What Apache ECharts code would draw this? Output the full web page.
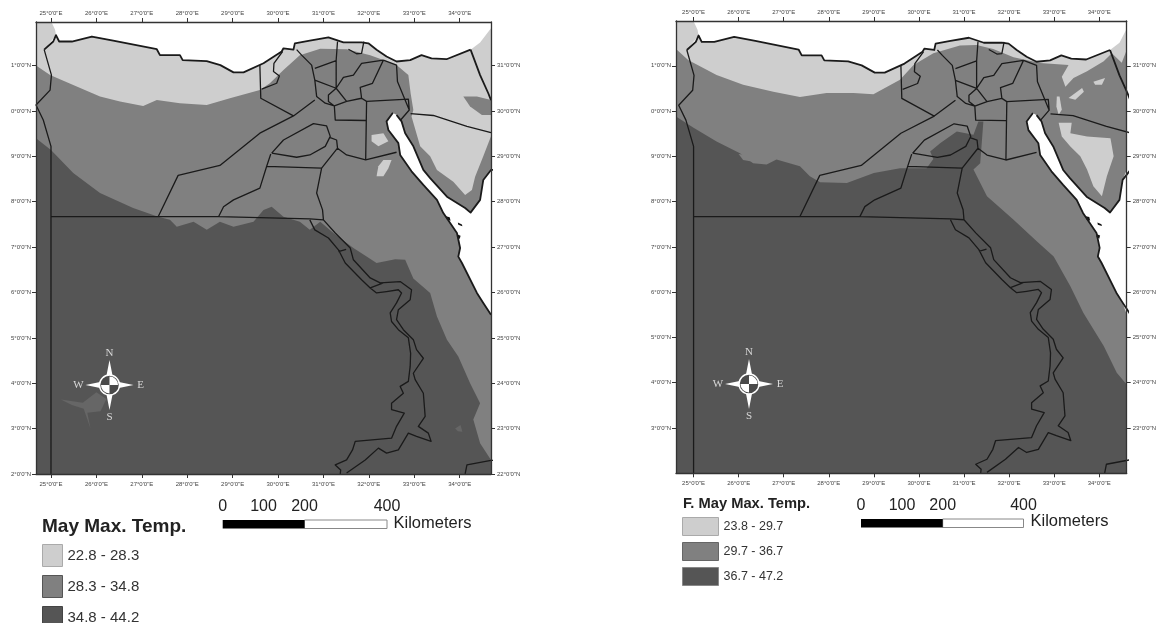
<!DOCTYPE html>
<html>
<head>
<meta charset="utf-8">
<style>html,body{margin:0;padding:0;background:#fff}#c{width:1168px;height:623px;filter:blur(0.45px)}</style>
<script src="https://cdn.jsdelivr.net/npm/echarts@6/dist/echarts.min.js"></script>
</head>
<body>
<div id="c"></div>
<script>
// ---- tick values and labels
const lonTicks = [25,26,27,28,29,30,31,32,33,34];
const lonLabels = ["25°0'0\"E","26°0'0\"E","27°0'0\"E","28°0'0\"E","29°0'0\"E","30°0'0\"E","31°0'0\"E","32°0'0\"E","33°0'0\"E","34°0'0\"E"];
const latTicksA = [22,23,24,25,26,27,28,29,30,31];
const latTicksB = [23,24,25,26,27,28,29,30,31];
const latLabelsLeft = {22:"2°0'0\"N",23:"3°0'0\"N",24:"4°0'0\"N",25:"5°0'0\"N",26:"6°0'0\"N",27:"7°0'0\"N",28:"8°0'0\"N",29:"9°0'0\"N",30:"0°0'0\"N",31:"1°0'0\"N"};
const latLabelsRight = {22:"22°0'0\"N",23:"23°0'0\"N",24:"24°0'0\"N",25:"25°0'0\"N",26:"26°0'0\"N",27:"27°0'0\"N",28:"28°0'0\"N",29:"29°0'0\"N",30:"30°0'0\"N",31:"31°0'0\"N"};

// ---- legend classes
const classesA = ['22.8 - 28.3','28.3 - 34.8','34.8 - 44.2'];
const classesB = ['23.8 - 29.7','29.7 - 36.7','36.7 - 47.2'];
const scaleLabels = ['0','100','200','400'];

// ---- whole-map base (lon, lat)
const wholeMap = [[24.5,32.2],[34.9,32.2],[34.9,21.8],[24.5,21.8]];

// ---- temperature zones, current period (left map)
const midZoneA = [[24.5,31.0],[24.67,31.0],[24.98,30.79],[25.49,30.57],[26.08,30.32],[26.52,30.21],[27.03,30.11],[27.33,30.24],[27.84,30.17],[28.43,30.13],[28.94,30.28],[29.6,30.46],[29.82,30.61],[30.12,30.9],[30.48,31.23],[30.93,31.37],[31.51,31.36],[32.03,31.23],[32.32,31.12],[32.61,31.01],[32.87,30.79],[32.92,30.39],[32.98,30.02],[32.94,29.88],[33.13,29.22],[33.35,29.0],[33.5,28.7],[33.86,28.44],[34.12,28.15],[34.27,28.26],[34.34,28.55],[34.52,29.0],[34.69,29.44],[34.9,29.44],[34.9,21.8],[24.5,21.8]];
const midPatchA = [[34.08,30.32],[34.38,30.32],[34.69,30.24],[34.9,30.24],[34.9,29.91],[34.49,29.91],[34.23,30.1]];
const darkZoneA = [[24.5,29.4],[24.67,29.4],[25,29.14],[25.49,28.63],[26.08,28.19],[26.81,27.86],[27.36,27.67],[27.62,27.6],[27.77,27.45],[28.14,27.56],[28.43,27.38],[28.72,27.56],[29.02,27.45],[29.46,27.56],[29.68,27.82],[29.86,27.89],[30.12,27.67],[30.48,27.56],[30.7,27.38],[30.93,27.56],[31.22,27.31],[31.66,26.98],[31.95,26.79],[32.17,26.65],[32.58,26.73],[32.8,26.72],[32.98,26.31],[33.35,25.99],[33.5,25.47],[33.72,24.96],[33.97,24.59],[34.23,24.0],[34.45,23.56],[34.3,23.2],[34.45,22.68],[34.69,22.31],[34.9,22.31],[34.9,21.8],[24.5,21.8]];
const lightPatchA1 = [[32.06,29.47],[32.32,29.51],[32.43,29.33],[32.21,29.22],[32.06,29.33]];
const lightPatchA2 = [[32.5,28.92],[32.32,28.92],[32.21,28.78],[32.17,28.56],[32.32,28.56],[32.43,28.74]];
const midBlobA1 = [[25.22,23.64],[25.7,23.57],[26.0,23.8],[26.22,23.65],[26.09,23.38],[25.8,23.35],[25.87,23.0],[25.72,23.44],[25.46,23.52]];
const midBlobA2 = [[33.9,23.0],[34.02,23.08],[34.06,22.93],[33.96,22.94]];

// ---- temperature zones, future period (right map)
const midZoneB = [[24.5,31.37],[24.61,31.37],[24.88,31.13],[25.51,30.8],[26.1,30.58],[26.77,30.43],[27.36,30.31],[27.95,30.4],[28.55,30.4],[28.99,30.37],[29.58,30.69],[29.88,31.02],[30.32,31.28],[30.91,31.45],[31.28,31.46],[31.65,31.37],[32.1,31.19],[32.69,31.06],[33.32,31.02],[33.17,30.76],[33.25,30.54],[33.43,30.73],[33.73,30.88],[34.1,31.1],[34.28,31.28],[34.5,31.07],[34.62,31.35],[34.9,31.35],[34.9,21.8],[24.5,21.8]];
const darkZoneB = [[24.5,29.88],[24.61,29.88],[25,29.63],[25.51,29.33],[26.03,29.07],[26.32,28.85],[26.62,28.82],[26.84,28.93],[27.36,28.78],[27.58,28.56],[27.81,28.43],[28.4,28.41],[29,28.63],[29.58,28.74],[30.17,28.74],[30.32,28.94],[30.25,29.11],[30.47,29.29],[30.84,29.55],[31.21,29.48],[31.32,29.77],[31.43,29.77],[31.4,29.37],[31.36,28.85],[31.21,28.71],[31.51,28.12],[32.1,27.6],[32.62,27.12],[32.99,26.79],[33.36,26.13],[33.65,25.54],[34.1,24.81],[34.39,24.22],[34.62,23.96],[34.9,23.96],[34.9,21.8],[24.5,21.8]];
const lightPatchB1 = [[33.1,29.74],[33.39,29.74],[33.36,29.51],[33.73,29.44],[34.25,29.4],[34.32,29.0],[34.17,28.56],[34.06,28.12],[33.87,28.34],[33.73,28.71],[33.58,29.0],[33.36,29.22],[33.17,29.44]];
const lightPatchB2 = [[33.32,30.29],[33.62,30.51],[33.66,30.43],[33.47,30.25]];
const lightPatchB3 = [[33.87,30.65],[34.13,30.73],[34.06,30.58],[33.91,30.58]];
const lightPatchB4 = [[33.06,30.32],[33.12,30.32],[33.17,30.03],[33.1,29.92],[33.05,30.1]];
const midBlobB1 = [[26.0,29.05],[26.25,29.02],[26.32,28.88],[26.1,28.92]];

// ---- coastline and land borders
const medCoast = [[24.85,31.35],[25.05,31.53],[25.11,31.67],[25.18,31.53],[25.46,31.53],[25.9,31.64],[26.37,31.55],[27.33,31.36],[27.4,31.23],[27.84,31.23],[27.9,31.12],[28.43,31.1],[28.73,31.01],[29.02,30.85],[29.24,30.85],[29.68,31.05],[30.08,31.31],[30.12,31.38],[30.34,31.35],[30.37,31.49],[30.7,31.55],[31.11,31.62],[31.44,31.51],[31.84,31.51],[31.88,31.53],[31.99,31.49],[32.17,31.35],[32.39,31.2],[32.61,31.09],[32.91,31.12],[33.16,31.23],[33.38,31.16],[33.71,31.14],[34.24,31.35]];
const medSeaEdge = [[34.24,31.35],[34.45,31.51],[34.69,31.82],[34.9,32.2],[25.0,32.2],[25.01,31.96],[25.09,31.79],[25.11,31.67]];
const redSea = [[32.53,29.96],[32.39,29.77],[32.43,29.58],[32.65,29.29],[32.69,29.03],[32.94,28.67],[33.2,28.37],[33.5,28.04],[33.64,27.75],[33.94,27.31],[34.01,26.98],[33.97,26.79],[34.05,26.65],[34.38,25.99],[34.52,25.77],[34.69,25.51],[34.9,25.4],[34.9,28.7],[34.69,28.7],[34.52,28.48],[34.45,28.04],[34.24,27.76],[34.12,27.86],[33.72,28.11],[33.35,28.52],[33.2,28.7],[32.98,29.22],[32.8,29.51],[32.72,29.77],[32.61,29.91]];
const island1 = [[33.7,27.68],[33.78,27.66],[33.8,27.58],[33.72,27.6]];
const island2 = [[33.96,27.54],[34.05,27.5],[34.06,27.46],[33.97,27.49]];
const island3 = [[33.95,27.28],[34.02,27.25],[34.0,27.18],[33.94,27.22]];
const westBorder = [[24.85,31.35],[25.01,30.79],[24.98,30.46],[24.67,30.13],[24.83,29.8],[25,29.22],[25,22]];
const eastBorder = [[34.24,31.35],[34.45,30.79],[34.63,30.39],[34.69,30.24]];
const sudanLine = [[25,27.67],[27.36,27.67],[28.69,27.67],[30.7,27.62],[31,27.6]];
const redSeaWest = redSea.slice(0,16);
const redSeaSinai = redSea.slice(17);

// ---- governorate boundaries
const admin01 = [[29.6,31.01],[29.62,30.28],[30.34,29.89],[29.6,29.51],[28.72,28.8],[27.8,28.58],[27.36,27.67]];
const admin02 = [[29.64,30.48],[29.97,30.61],[30.03,30.77],[29.9,30.87],[29.91,31.05],[30.1,31.31]];
const admin03 = [[30.34,29.89],[30.81,30.24]];
const admin04 = [[30.41,31.35],[30.52,31.23],[30.74,31.01],[30.81,30.68],[30.85,30.32],[31.04,30.17],[31.24,30.11]];
const admin05 = [[30.81,30.94],[31.28,31.11],[31.31,31.53]];
const admin06 = [[31.28,31.11],[31.28,30.5],[30.81,30.68]];
const admin07 = [[31.28,30.5],[31.11,30.35],[31.11,30.21],[31.24,30.11],[31.51,30.21],[31.28,30.5]];
const admin08 = [[31.28,30.5],[31.44,30.74],[31.66,30.79],[31.84,31.05],[32.32,31.12]];
const admin09 = [[31.51,30.21],[31.84,30.28],[31.81,30.52],[32.08,30.61],[32.32,31.12]];
const admin10 = [[31.55,31.36],[31.73,31.26],[31.84,31.27],[31.89,31.53]];
const admin11 = [[32.32,31.12],[32.61,31.01],[32.63,30.65],[32.89,30.02],[32.69,29.79]];
const admin12 = [[31.84,30.28],[31.95,30.21],[32.87,30.26],[32.89,30.02]];
const admin13 = [[31.24,30.11],[31.26,29.8],[31.93,29.79]];
const admin14 = [[31.95,30.21],[31.93,28.92],[32.61,29.09]];
const admin15 = [[32.92,29.94],[33.42,29.9],[34.16,29.66],[34.69,29.52]];
const admin16 = [[31.31,29.18],[31.51,29.03],[31.93,28.92]];
const admin17 = [[29.86,29.07],[30.12,29.36],[30.78,29.72],[31.07,29.67],[31.15,29.44],[31.04,29.22],[30.7,29.03],[30.41,28.98],[29.86,29.07]];
const admin18 = [[31.15,29.41],[31.29,29.36],[31.31,29.18],[30.96,28.74],[29.75,28.78],[29.84,29.05]];
const admin19 = [[29.75,28.78],[29.6,28.3],[29.02,28.04],[28.8,27.89],[28.69,27.67]];
const admin20 = [[30.96,28.74],[30.85,28.19],[30.98,27.82],[31,27.6]];
const nileWest = [[30.7,27.6],[30.81,27.38],[31.11,27.2],[31.33,26.94],[31.33,26.9],[31.48,26.65],[31.84,26.28],[32.03,26.1],[32.17,25.99],[32.39,26.02],[32.65,26.06],[32.72,25.99],[32.61,25.77],[32.47,25.55],[32.5,25.36],[32.65,25.18],[32.87,25.0],[32.92,24.66],[32.91,24.37],[32.87,24.04],[32.69,23.93],[32.76,23.78],[32.5,23.56],[32.5,23.42],[32.78,23.34],[32.61,23.05],[32.5,22.79],[31.7,22.72],[31.64,22.53],[31.51,22.31],[31.26,22.2],[31.38,22.09],[31.37,22.0]];
const nileEast = [[31,27.6],[31.26,27.31],[31.59,26.98],[31.66,26.72],[32.03,26.32],[32.25,26.21],[32.69,26.24],[32.94,26.06],[32.91,25.84],[32.65,25.62],[32.61,25.4],[32.76,25.18],[32.98,24.96],[33.05,24.74],[33.2,24.55],[32.98,24.22],[33.02,24.08],[33.2,23.78],[33.24,23.27],[33.09,23.05],[33.31,22.9],[33.37,22.72],[33.05,22.83],[32.87,22.9],[32.65,22.53],[32.39,22.46],[32.21,22.57],[31.92,22.31],[31.51,22.02]];
const nileCross = [[32.03,26.1],[32.32,26.21]];
const nileTop = [[31.33,26.9],[31.5,26.95]];
const halayeb = [[34.12,22.0],[34.16,22.2],[34.69,22.3],[34.9,22.3]];

const C_LIGHT = '#cecece', C_MID = '#808080', C_DARK = '#555555', C_LINE = '#1a1a1a';

function zone(name, rings, color, gi) {
  return {
    type: 'custom', name, silent: true, xAxisIndex: gi*2, yAxisIndex: gi*2,
    itemStyle: { color },
    data: rings.map(r => [r[0][0], r[0][1]]),
    renderItem(params, api) {
      const c = params.coordSys;
      const pts = echarts.graphic.clipPointsByRect(rings[params.dataIndex].map(p => api.coord(p)),
        { x: c.x, y: c.y, width: c.width, height: c.height });
      return { type: 'polygon', shape: { points: pts }, style: { fill: color }, silent: true };
    }
  };
}
function outlines(name, paths, gi, width) {
  const data = [];
  paths.forEach(p => { p.forEach(q => data.push(q)); data.push([null, null]); });
  return {
    type: 'line', name, silent: true, xAxisIndex: gi*2, yAxisIndex: gi*2,
    data, showSymbol: false, connectNulls: false, clip: true,
    lineStyle: { color: C_LINE, width, join: 'round' }, itemStyle: { color: C_LINE }
  };
}
const adminLines = [admin01,admin02,admin03,admin04,admin05,admin06,admin07,admin08,admin09,admin10,admin11,admin12,admin13,admin14,admin15,admin16,admin17,admin18,admin19,admin20,nileWest,nileEast,nileCross,nileTop,halayeb,sudanLine,westBorder];
const coastLines = [medCoast,eastBorder,redSeaWest,redSeaSinai];
const islands = [island1,island2,island3];

function mapSeries(gi, cls, mids, darks, lights, blobs) {
  return [
    zone(cls[0], [wholeMap], C_LIGHT, gi),
    zone(cls[1], mids, C_MID, gi),
    zone(cls[2], darks, C_DARK, gi),
    zone(cls[0], lights, C_LIGHT, gi),
    zone(cls[1], blobs, gi === 0 ? '#666666' : C_MID, gi),
    zone('sea' + gi, [medCoast.concat(medSeaEdge), redSea], '#ffffff', gi),
    zone('islands' + gi, islands, '#111111', gi),
    outlines('admin' + gi, adminLines, gi, 1.3),
    outlines('coast' + gi, coastLines, gi, 1.8)
  ];
}

function axes(gi, lonMin, lonMax, latMax, latTicks) {
  const common = {
    type: 'value', gridIndex: gi, splitLine: { show: false }, z: 10,
    axisLine: { show: true, onZero: false, lineStyle: { color: '#333', width: 1.3 } }
  };
  const lbl = { color: '#444', fontSize: 6, fontFamily: 'Liberation Sans' };
  const x = (pos, m) => Object.assign({}, common, {
    position: pos, min: lonMin, max: lonMax,
    axisTick: { show: true, length: 4, customValues: lonTicks, lineStyle: { color: '#333' } },
    axisLabel: Object.assign({}, lbl, { customValues: lonTicks, margin: m,
      formatter: v => lonLabels[lonTicks.indexOf(v)] })
  });
  const y = (pos, labels, m) => Object.assign({}, common, {
    position: pos, min: 22, max: latMax,
    axisTick: { show: true, length: 4, customValues: latTicks, lineStyle: { color: '#333' } },
    axisLabel: Object.assign({}, lbl, { customValues: latTicks, margin: m,
      formatter: v => labels[v] })
  });
  return { x: [x('bottom', 7), x('top', 6)], y: [y('left', latLabelsLeft, 5), y('right', latLabelsRight, 6)] };
}
const axA = axes(0, 24.67, 34.69, 31.96, latTicksA);
const axB = axes(1, 24.61, 34.61, 31.99, latTicksB);

function compass(cx, cy) {
  const w = '#ffffff', t = '#d8d8d8';
  const txt = (s, x, y) => ({ type: 'text', silent: true, z: 100, x: cx + x, y: cy + y,
    style: { text: s, fill: t, font: '11px "Liberation Serif"', align: 'center', verticalAlign: 'middle' } });
  return [
    { type: 'polygon', silent: true, z: 100, shape: { points: [[cx,cy-25],[cx+3.5,cy-7],[cx+7,cy-3.5],[cx+24,cy],[cx+7,cy+3.5],[cx+3.5,cy+7],[cx,cy+25],[cx-3.5,cy+7],[cx-7,cy+3.5],[cx-24,cy],[cx-7,cy-3.5],[cx-3.5,cy-7]] }, style: { fill: w } },
    { type: 'circle', silent: true, z: 101, shape: { cx, cy, r: 10 }, style: { fill: '#4a4a4a', stroke: w, lineWidth: 1.5 } },
    { type: 'sector', silent: true, z: 102, shape: { cx, cy, r: 8.5, r0: 0, startAngle: -Math.PI/2, endAngle: 0 }, style: { fill: w } },
    { type: 'sector', silent: true, z: 102, shape: { cx, cy, r: 8.5, r0: 0, startAngle: Math.PI/2, endAngle: Math.PI }, style: { fill: w } },
    txt('N', 0, -32), txt('S', 0, 32), txt('W', -31, 0), txt('E', 31, 0)
  ];
}
function scaleBar(xs, yText, yBar, xKm, yKm) {
  const [x0, x1, x2, x3] = xs;
  const items = [
    { type: 'rect', silent: true, shape: { x: x2, y: yBar, width: x3 - x2, height: 8.5 }, style: { fill: '#fff', stroke: '#888', lineWidth: 1 } },
    { type: 'rect', silent: true, shape: { x: x0, y: yBar, width: x2 - x0, height: 8.5 }, style: { fill: '#000' } },
    { type: 'text', silent: true, x: xKm, y: yKm, style: { text: 'Kilometers', fill: '#222', font: '16.5px "Liberation Sans"', verticalAlign: 'middle' } }
  ];
  scaleLabels.forEach((s, i) => items.push({ type: 'text', silent: true, x: xs[i], y: yText,
    style: { text: s, fill: '#222', font: '16px "Liberation Sans"', align: 'center', verticalAlign: 'middle' } }));
  return items;
}

const chart = echarts.init(document.getElementById('c'), null, { renderer: 'canvas' });
const swatch = (n, c, b) => ({ name: n, icon: 'rect', itemStyle: { color: c, borderColor: b, borderWidth: 1 } });
chart.setOption({
  animation: false,
  backgroundColor: '#fff',
  title: [
    { text: 'May Max. Temp.', left: 42, top: 517, padding: 0, textStyle: { fontSize: 19, fontWeight: 'bold', color: '#222', fontFamily: 'Liberation Sans' } },
    { text: 'F. May Max. Temp.', left: 683, top: 496, padding: 0, textStyle: { fontSize: 14.7, fontWeight: 'bold', color: '#222', fontFamily: 'Liberation Sans' } }
  ],
  legend: [
    { orient: 'vertical', left: 42, top: 544, height: 120, padding: 0, itemWidth: 20, itemHeight: 22, itemGap: 8, selectedMode: false,
      textStyle: { fontSize: 15, color: '#333', fontFamily: 'Liberation Sans' },
      data: [swatch(classesA[0], C_LIGHT, '#aaa'), swatch(classesA[1], C_MID, '#555'), swatch(classesA[2], C_DARK, '#444')] },
    { orient: 'vertical', left: 682, top: 517, padding: 0, itemWidth: 36, itemHeight: 18, itemGap: 6, selectedMode: false,
      textStyle: { fontSize: 12.5, color: '#333', fontFamily: 'Liberation Sans' },
      data: [swatch(classesB[0], C_LIGHT, '#aaa'), swatch(classesB[1], C_MID, '#666'), swatch(classesB[2], C_DARK, '#888')] }
  ],
  grid: [
    { left: 36, right: 677, top: 22, bottom: 149 },
    { left: 676, right: 41.3, top: 21, bottom: 149.7 }
  ],
  xAxis: [...axA.x, ...axB.x],
  yAxis: [...axA.y, ...axB.y],
  series: [
    ...mapSeries(0, classesA, [midZoneA, midPatchA], [darkZoneA], [lightPatchA1, lightPatchA2], [midBlobA1, midBlobA2]),
    ...mapSeries(1, classesB, [midZoneB], [darkZoneB], [lightPatchB1, lightPatchB2, lightPatchB3, lightPatchB4], [midBlobB1])
  ],
  graphic: [
    ...compass(109.5, 385),
    ...compass(749, 384),
    ...scaleBar([222.7, 263.5, 304.5, 387], 506.5, 520, 393.5, 523),
    ...scaleBar([861, 902, 942.7, 1023.5], 505.5, 519, 1030.5, 521.7)
  ]
});
</script>
</body>
</html>
